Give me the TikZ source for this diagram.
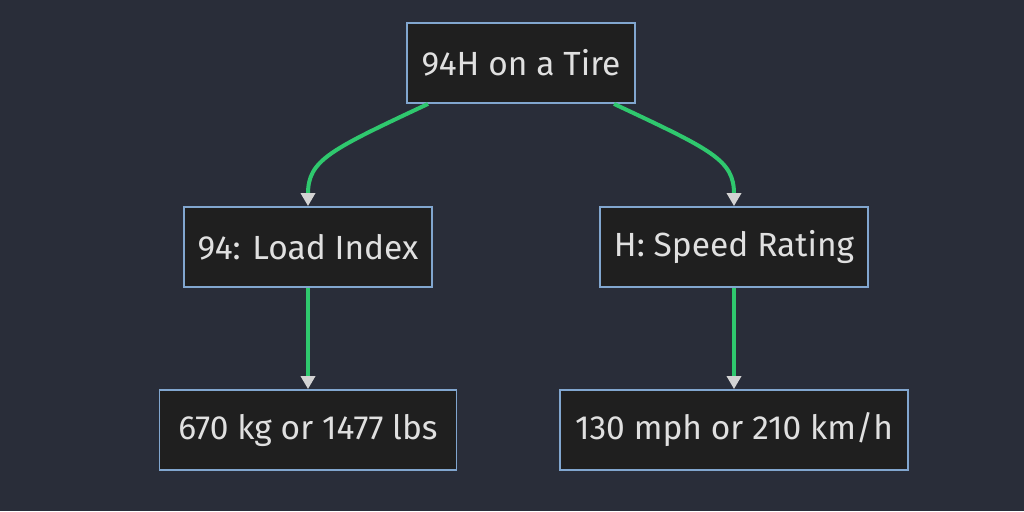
\documentclass[tikz,border=0pt]{standalone}
\usepackage{fontspec}
\setmainfont{Fira Sans}
\usetikzlibrary{arrows.meta}
\definecolor{bg}{HTML}{292D39}
\definecolor{nodefill}{HTML}{1F1F1F}
\definecolor{nodeborder}{HTML}{81A6CF}
\definecolor{edge}{HTML}{2FC86E}
\definecolor{tip}{HTML}{D3D3D3}
\definecolor{txt}{HTML}{E0E0E0}
\begin{document}
\begin{tikzpicture}[x=1pt,y=-1pt,
  box/.style={draw=nodeborder,fill=nodefill,line width=1.8pt,text=txt,
    font=\fontsize{33.5}{36}\selectfont,inner sep=0pt,minimum height=80pt,anchor=center},
  link/.style={draw=edge,line width=4pt,-{Triangle[color=tip,width=14pt,length=13pt]}}]
\fill[bg] (0,0) rectangle (1024,511);
\useasboundingbox (0,0) rectangle (1024,511);
\node[box,minimum width=228pt] (top) at (521,63) {94H on a Tire};
\node[box,minimum width=248pt] (load) at (308,247) {94: Load Index};
\node[box,minimum width=268pt] (speed) at (734,247) {H: Speed Rating};
\node[box,minimum width=297pt] (kg) at (308,430) {670 kg or 1477 lbs};
\node[box,minimum width=348pt] (mph) at (734,430) {130 mph or 210 km/h};
\coordinate (tl) at ([xshift=-93pt]top.south);
\coordinate (tr) at ([xshift=93pt]top.south);
\draw[link] (tl) .. controls (330,150) and (308,160) .. (load.north);
\draw[link] (tr) .. controls (712,150) and (734,160) .. (speed.north);
\draw[link] (load.south) -- (kg.north);
\draw[link] (speed.south) -- (mph.north);
\end{tikzpicture}
\end{document}
